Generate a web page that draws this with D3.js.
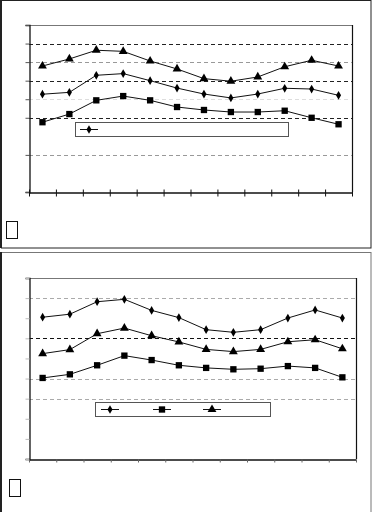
<!DOCTYPE html>
<html>
<head>
<meta charset="utf-8">
<script src="https://cdn.jsdelivr.net/npm/d3@7"></script>
<style>
  body { margin: 0; background: #fff; }
  svg { display: block; }
</style>
</head>
<body>
<div id="chart"></div>
<script>
// 12 categories, no readable labels in the reference
const months = [1, 2, 3, 4, 5, 6, 7, 8, 9, 10, 11, 12]

// top panel
const topTri = [6.79, 7.17, 7.64, 7.58, 7.06, 6.63, 6.11, 5.97, 6.20, 6.75, 7.10, 6.79]
const topDia = [5.27, 5.37, 6.29, 6.38, 6.00, 5.60, 5.28, 5.07, 5.28, 5.59, 5.55, 5.21]
const topSq  = [3.76, 4.20, 4.94, 5.17, 4.94, 4.58, 4.42, 4.31, 4.31, 4.38, 4.00, 3.65]

// bottom panel
const botDia = [7.05, 7.20, 7.82, 7.94, 7.39, 7.03, 6.43, 6.30, 6.43, 7.01, 7.41, 7.01]
const botTri = [5.24, 5.44, 6.23, 6.51, 6.13, 5.82, 5.45, 5.34, 5.45, 5.83, 5.93, 5.48]
const botSq  = [4.03, 4.21, 4.66, 5.14, 4.92, 4.66, 4.53, 4.46, 4.49, 4.62, 4.53, 4.06]

const yMax = 9

const svg = d3.select('#chart').append('svg')
    .attr('width', 372)
    .attr('height', 512)

// outer frames
svg.append('rect')
    .attr('x', 1.5).attr('y', 0.5)
    .attr('width', 369.5).attr('height', 247.5)
    .attr('fill', 'none')
    .attr('stroke', '#222')
svg.append('line')
    .attr('x1', 1).attr('x2', 1).attr('y1', 0).attr('y2', 248)
    .attr('stroke', '#222').attr('stroke-width', 2)
svg.append('rect')
    .attr('x', 1.5).attr('y', 252.5)
    .attr('width', 369.5).attr('height', 280)
    .attr('fill', 'none')
    .attr('stroke', '#777')
svg.append('line')
    .attr('x1', 1).attr('x2', 1).attr('y1', 252).attr('y2', 512)
    .attr('stroke', '#222').attr('stroke-width', 2)

const symbols = {
    dia: d3.symbol().type(d3.symbolDiamond).size(22),
    sq: d3.symbol().type(d3.symbolSquare).size(40),
    tri: d3.symbol().type(d3.symbolTriangle).size(34)
}

function drawPanel(opt) {
    const g = svg.append('g')
    const xScale = d3.scaleLinear().domain([0, months.length]).range([opt.left, opt.right])
    const yScale = d3.scaleLinear().domain([0, yMax]).range([opt.bottom, opt.top])
    const xMap = (d, i) => xScale(i + 0.5)

    // plot frame top / right
    g.append('line')
        .attr('x1', opt.left).attr('x2', opt.right)
        .attr('y1', opt.top + 0.5).attr('y2', opt.top + 0.5)
        .attr('stroke', '#777')
    g.append('line')
        .attr('x1', opt.right + 0.5).attr('x2', opt.right + 0.5)
        .attr('y1', opt.top).attr('y2', opt.bottom)
        .attr('stroke', '#111').attr('stroke-width', 1.2)

    // gridlines
    opt.grid.forEach(([v, c]) => {
        g.append('line')
            .attr('x1', opt.left).attr('x2', opt.right)
            .attr('y1', Math.round(yScale(v)) + 0.5).attr('y2', Math.round(yScale(v)) + 0.5)
            .attr('stroke', c)
            .attr('stroke-dasharray', '4,3')
    })

    // y axis
    const yAxis = d3.axisLeft(yScale)
        .tickValues(opt.yTicks)
        .tickSize(4)
        .tickFormat('')
    const ya = g.append('g')
        .attr('transform', `translate(${opt.left + 0.5},0)`)
        .call(yAxis)
    ya.select('.domain').attr('stroke', '#111').attr('stroke-width', 1.3)
    ya.selectAll('.tick line').attr('stroke', opt.yTickColor)

    // x axis
    const xAxis = d3.axisBottom(xScale)
        .tickValues(d3.range(0, months.length + 1))
        .tickSizeInner(opt.xTickSize)
        .tickSizeOuter(0)
        .tickFormat('')
    const xa = g.append('g')
        .attr('transform', `translate(0,${opt.bottom + 0.5})`)
        .call(xAxis)
    xa.select('.domain').attr('stroke', '#111').attr('stroke-width', 1.3)
    xa.selectAll('.tick line')
        .attr('stroke', opt.xTickColor)
        .attr('y1', opt.xTickUp)

    const line = d3.line().x(xMap).y(d => yScale(d))

    opt.series.forEach(s => {
        g.append('path')
            .datum(s.values)
            .attr('d', line)
            .attr('fill', 'none')
            .attr('stroke', '#111')
            .attr('stroke-width', 1)
        g.selectAll(null)
            .data(s.values)
            .enter().append('path')
            .attr('d', symbols[s.shape])
            .attr('transform', (d, i) => `translate(${xMap(d, i)},${yScale(d)})`)
            .attr('fill', '#000')
    })

    // legend
    const lg = g.append('g')
    lg.append('rect')
        .attr('x', opt.legend.x + 0.5).attr('y', opt.legend.y + 0.5)
        .attr('width', opt.legend.w).attr('height', opt.legend.h)
        .attr('fill', '#fff')
        .attr('stroke', '#555')
    opt.legend.items.forEach(it => {
        const cy = opt.legend.y + opt.legend.h / 2 + 0.5
        lg.append('line')
            .attr('x1', it.x).attr('x2', it.x + 18)
            .attr('y1', cy).attr('y2', cy)
            .attr('stroke', '#111')
        lg.append('path')
            .attr('d', symbols[it.shape])
            .attr('transform', `translate(${it.x + 9},${cy})`)
            .attr('fill', '#000')
    })

    // label box (glyph not rendered in the reference)
    g.append('rect')
        .attr('x', opt.label.x + 0.5).attr('y', opt.label.y + 0.5)
        .attr('width', 11).attr('height', 17)
        .attr('fill', 'none')
        .attr('stroke', '#111')
}

drawPanel({
    left: 29, right: 352, top: 25, bottom: 192,
    grid: [[8, '#222'], [7, '#999'], [6, '#222'], [5, '#ddd'], [4, '#222'], [2, '#999']],
    yTicks: [0, 2, 4, 5, 6, 7, 8, 9],
    yTickColor: '#555',
    xTickSize: 4, xTickUp: -3, xTickColor: '#111',
    series: [
        { values: topTri, shape: 'tri' },
        { values: topDia, shape: 'dia' },
        { values: topSq, shape: 'sq' }
    ],
    legend: { x: 75, y: 122, w: 213, h: 14, items: [{ x: 80, shape: 'dia' }] },
    label: { x: 6, y: 221 }
})

drawPanel({
    left: 29, right: 356, top: 278, bottom: 459,
    grid: [[8, '#aaa'], [6, '#111'], [4, '#aaa'], [3, '#aaa']],
    yTicks: d3.range(0, yMax + 1),
    yTickColor: '#bbb',
    xTickSize: 3, xTickUp: 0, xTickColor: '#666',
    series: [
        { values: botDia, shape: 'dia' },
        { values: botTri, shape: 'tri' },
        { values: botSq, shape: 'sq' }
    ],
    legend: {
        x: 95, y: 402, w: 175, h: 14,
        items: [{ x: 101, shape: 'dia' }, { x: 153, shape: 'sq' }, { x: 203, shape: 'tri' }]
    },
    label: { x: 9, y: 479 }
})
</script>
</body>
</html>
